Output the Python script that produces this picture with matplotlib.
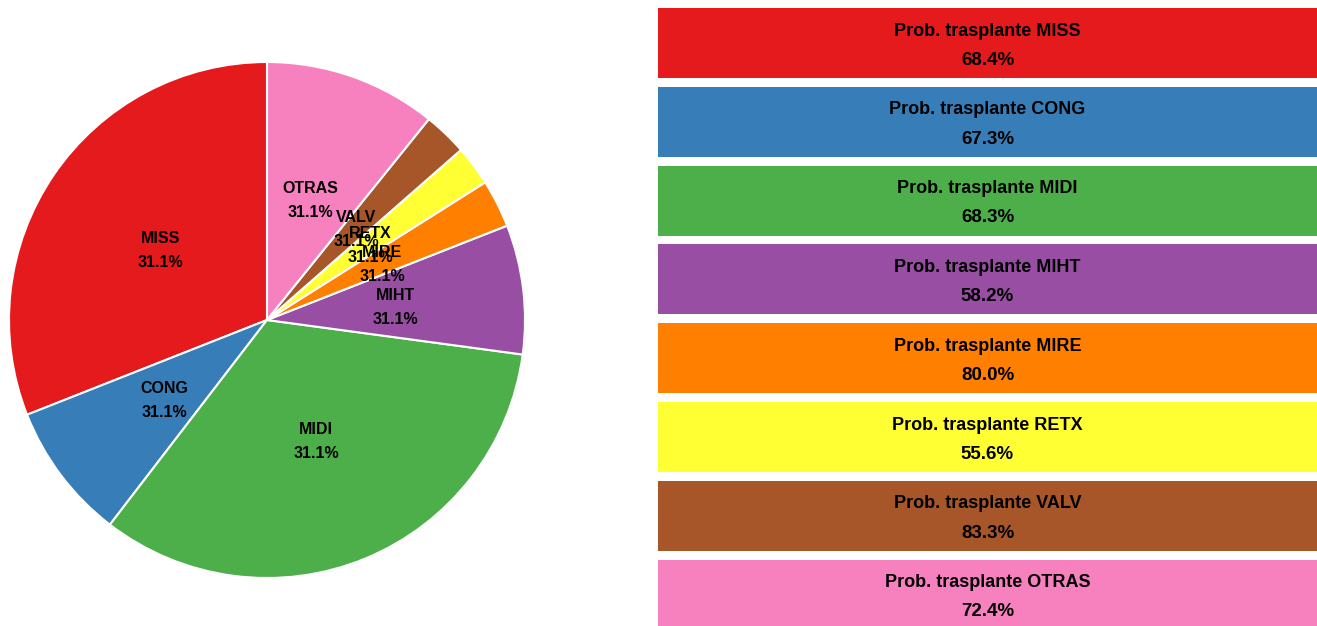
import matplotlib.pyplot as plt
import numpy as np

# datos
grupos = ['MISS', 'CONG', 'MIDI', 'MIHT', 'MIRE', 'RETX', 'VALV', 'OTRAS']
porcentaje = [31.0, 8.6, 33.3, 8.1, 3.0, 2.5, 2.75, 10.8]
etiqueta_pct = ['31.1%'] * 8
prob_trasplante = [68.4, 67.3, 68.3, 58.2, 80.0, 55.6, 83.3, 72.4]
colores = ['#E41A1C', '#377EB8', '#4DAF4A', '#984EA3',
           '#FF7F00', '#FFFF33', '#A65628', '#F781BF']

W, H = 1317, 626
fig = plt.figure(figsize=(W / 100, H / 100), dpi=100)

# pie
cx, cy, R = 267, 320, 258
ax = fig.add_axes([(cx - R) / W, (H - cy - R) / H, 2 * R / W, 2 * R / H])
wedges, _ = ax.pie(porcentaje, colors=colores, startangle=90, counterclock=True,
                   radius=1, wedgeprops=dict(edgecolor='white', linewidth=1.5))
for w, g, p in zip(wedges, grupos, etiqueta_pct):
    ang = np.deg2rad((w.theta1 + w.theta2) / 2)
    x, y = 0.5 * np.cos(ang), 0.5 * np.sin(ang)
    ax.text(x, y - 0.01, g + '\n' + p, ha='center', va='center', fontsize=11.5,
            fontweight='bold', family='Liberation Sans', linespacing=1.75)
ax.set_xlim(-1, 1)
ax.set_ylim(-1, 1)
ax.axis('off')

# cajas
x0 = 658
ax2 = fig.add_axes([x0 / W, 0, (W - x0) / W, 1])
pitch = 78.8
idx = np.arange(len(grupos))
ax2.barh(idx, 1, height=70 / pitch, color=colores, left=0)
for i, g, p in zip(idx, grupos, prob_trasplante):
    ax2.text(0.5, i - 0.15, 'Prob. trasplante ' + g, ha='center', va='center',
             fontsize=13, fontweight='bold',
             family=['Liberation Sans Narrow', 'Liberation Sans'])
    ax2.text(0.5, i + 0.22, f'{p:.1f}%', ha='center', va='center',
             fontsize=13.5, fontweight='bold',
             family=['Liberation Sans Narrow', 'Liberation Sans'])
ax2.set_xlim(0, 1)
ax2.set_ylim((H - 43) / pitch, -43 / pitch)
ax2.axis('off')

fig.savefig('out.png', dpi=100)
